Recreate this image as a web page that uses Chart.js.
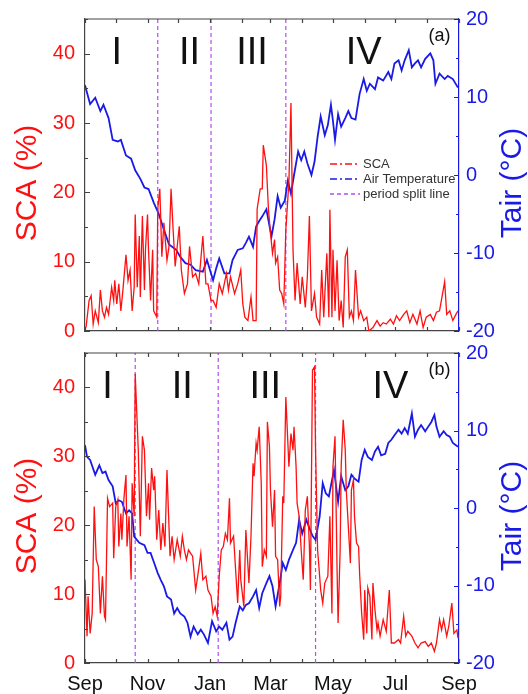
<!DOCTYPE html>
<html>
<head>
<meta charset="utf-8">
<script src="https://cdn.jsdelivr.net/npm/chart.js@4.4.1/dist/chart.umd.min.js"></script>
<style>
html,body{margin:0;padding:0;background:#fff;}
#wrap{position:relative;width:528px;height:694px;}
canvas{position:absolute;left:0;}
#chartA{top:0;}
#chartB{top:342px;}
</style>
</head>
<body>
<div id="wrap">
<canvas id="chartA" width="528" height="342"></canvas>
<canvas id="chartB" width="528" height="352"></canvas>
</div>
<script>
// axis: days since 1 Sep, ticks at the first of each month
const monthDays = [0,30,61,91,122,153,181,212,242,273,303,334,365]
const monthLabels = ['Sep','','Nov','','Jan','','Mar','','May','','Jul','','Sep']
const periodNames = ['I','II','III','IV']

// panel (a)
const scaADays = [1,4,6,8,10,13,15,17,19,21,23,26,28,29,31,33,35,37,40,42,44,46,48,49,51,53,54,56,58,59,61,62,64,66,67,70,71,73,75,77,80,82,84,86,88,92,94,97,100,102,105,108,111,115,118,120,123,125,128,131,134,138,140,142,146,149,152,154,156,159,162,164,167,168,171,173,174,177,179,181,183,185,186,188,190,192,194,196,199,201,203,205,207,210,212,215,217,219,221,224,226,229,231,233,236,238,239,241,242,244,246,248,250,252,254,256,258,260,262,264,267,269,272,275,277,281,285,288,291,294,298,301,304,307,311,314,317,320,324,327,330,333,337,340,343,346,351,353,356,359,362,364]
const scaAVals = [0.5,4.4,5.1,1.0,2.9,1.2,5.9,2.9,2.0,3.4,2.4,6.3,4.4,7.3,3.9,6.8,2.9,5.9,11.0,7.3,8.8,2.9,6.3,16.8,6.3,13.7,4.9,16.6,5.9,11.7,16.8,11.7,4.4,11.7,2.9,2.0,17.6,20.5,10.7,15.6,10.2,12.2,20.5,14.6,9.3,15.1,8.8,5.4,6.8,12.2,7.8,8.3,6.8,13.7,6.8,6.8,4.4,4.4,3.4,6.8,5.4,8.3,5.9,7.8,5.4,6.8,8.8,3.9,2.0,1.5,4.9,1.5,1.5,17.6,20.5,20.5,26.8,23.9,17.6,14.1,11.2,13.2,9.8,10.7,5.9,5.4,3.9,14.6,21.5,32.9,11.7,4.4,9.8,3.9,7.8,3.4,7.8,16.6,2.9,5.4,2.0,1.0,8.8,2.0,11.2,2.0,17.5,2.0,11.7,2.9,10.2,1.5,4.4,0.5,10.7,11.7,2.0,2.9,1.5,8.8,2.0,2.9,1.5,2.0,0.0,0.5,1.5,0.7,1.2,1.0,1.7,1.0,2.2,1.5,2.4,2.9,1.2,2.4,1.0,2.9,0.5,2.0,2.4,1.5,2.7,2.9,7.1,2.4,2.9,1.5,2.4,2.9]
const tairADays = [0,5,10,15,18,23,27,32,35,40,45,49,54,58,62,67,72,77,82,89,93,98,103,108,115,119,125,128,131,136,141,144,149,154,157,160,164,167,170,173,177,182,185,188,191,195,198,201,204,208,211,214,217,221,224,227,230,234,237,240,242,244,247,250,254,257,260,264,268,272,275,278,283,286,291,296,299,302,306,309,312,316,319,322,325,328,332,337,340,342,346,351,354,359,364]
const tairAVals = [11.5,9.1,9.9,8.2,9.0,7.3,4.5,4.3,4.5,2.5,2.1,0.6,-0.5,-1.6,-1.8,-3.5,-5.0,-7.0,-8.9,-9.6,-10.5,-11.3,-11.5,-12.2,-12.4,-10.9,-13.5,-12.0,-10.7,-12.6,-12.6,-10.9,-9.6,-9.4,-8.7,-7.9,-9.2,-6.6,-5.9,-5.3,-4.4,-7.9,-5.7,-2.7,-4.2,-3.3,-0.7,-2.4,0.0,3.0,1.9,3.0,1.5,0.0,1.7,4.9,7.5,5.1,6.4,9.0,6.9,4.5,7.8,6.2,7.3,8.2,7.3,7.1,10.4,12.3,10.8,11.7,11.0,12.5,12.1,13.2,12.3,14.3,14.7,13.4,14.7,16.0,13.8,14.3,14.7,13.8,14.9,15.6,14.7,11.7,13.0,12.3,12.7,12.3,11.2]
const splitA = [71,123,196]
const numeralDaysA = [31,102,163,272]

// panel (b)
const scaBDays = [0,2,3,5,7,9,11,13,15,17,19,20,22,24,27,28,30,32,33,35,36,38,40,41,43,45,46,48,49,52,54,56,58,60,62,63,65,67,68,70,72,74,76,78,80,83,85,87,90,93,95,97,99,101,105,108,110,113,115,118,120,123,125,127,129,131,133,135,137,139,141,142,145,147,149,151,152,155,157,160,162,164,165,167,168,170,172,173,175,177,178,180,181,183,185,186,188,190,191,193,194,196,198,199,201,203,204,206,207,209,211,213,215,217,219,220,222,224,225,227,229,230,232,234,237,239,241,242,244,246,247,249,250,252,254,255,257,259,260,262,263,265,267,268,270,272,273,275,276,278,280,281,283,285,286,288,291,294,297,299,302,306,308,311,313,315,319,322,325,328,332,335,338,341,343,346,348,350,353,355,358,360,363,364]
const scaBVals = [12.1,3.9,9.7,4.3,7.2,22.7,15.0,14.0,7.2,12.6,6.8,6.3,23.9,22.7,23.2,15.2,22.7,23.7,16.9,21.7,17.9,23.9,27.3,16.9,21.3,12.1,26.1,21.3,42.0,30.9,18.4,32.9,30.9,21.3,26.1,20.8,28.3,25.1,27.1,17.9,22.2,16.4,20.3,16.9,28.0,15.5,18.4,15.0,17.9,15.5,18.4,16.4,15.0,16.4,15.5,10.6,12.6,15.9,12.1,12.6,10.6,9.7,7.2,8.2,6.8,12.6,16.4,16.9,18.8,17.9,23.9,17.4,18.4,13.5,8.7,16.4,12.1,8.2,19.3,11.6,18.4,29.0,27.1,31.9,30.9,34.3,26.1,14.0,16.4,15.5,35.0,31.4,25.1,19.8,25.1,15.5,15.0,8.2,9.7,24.2,23.2,38.6,31.9,28.5,33.3,30.9,34.3,28.5,23.2,21.3,16.4,12.1,22.2,24.2,16.9,10.6,42.5,43.0,30.9,16.4,12.6,10.6,8.7,11.6,12.6,21.3,7.2,28.5,32.9,13.5,5.8,16.4,28.5,35.3,30.9,25.1,19.8,14.5,25.1,26.6,21.3,17.4,16.9,13.0,7.2,3.4,10.6,4.3,10.9,9.7,3.4,11.6,7.7,4.8,5.8,3.9,6.3,4.6,10.6,2.9,2.9,3.4,2.9,6.8,3.9,4.6,3.9,2.9,2.2,2.9,3.1,2.4,2.9,1.7,2.9,6.3,4.8,6.3,3.9,5.3,8.7,4.3,4.8,3.6]
const tairBDays = [0,2,5,10,14,17,20,23,27,30,33,36,40,43,46,48,53,58,61,64,67,71,74,77,80,84,87,90,93,97,100,103,106,110,113,116,120,124,128,131,134,138,141,144,147,151,154,157,160,164,167,170,173,177,180,183,186,190,193,196,199,203,206,209,212,216,219,222,225,229,232,235,238,243,247,250,254,257,260,263,267,270,273,276,280,283,286,289,293,296,299,302,306,309,312,315,319,322,325,328,332,335,338,341,343,346,350,353,356,359,364]
const tairBVals = [8.1,6.6,6.2,4.3,5.5,4.5,4.7,3.6,2.8,0.6,1.0,0.8,-0.7,-0.3,-0.7,-3.7,-4.5,-4.8,-5.8,-5.8,-6.9,-8.4,-9.3,-10.1,-11.4,-11.8,-13.6,-12.9,-13.6,-14.0,-14.8,-16.6,-15.3,-16.3,-15.7,-16.3,-17.4,-14.6,-15.9,-15.3,-15.7,-14.8,-17.0,-16.6,-14.8,-12.7,-13.2,-12.5,-12.3,-11.4,-10.6,-12.9,-11.0,-9.7,-8.8,-10.1,-12.7,-9.7,-7.1,-8.0,-6.7,-5.4,-4.5,-1.5,-3.3,-1.5,-2.6,-3.6,-4.1,-1.1,3.2,1.9,1.5,4.9,0.8,4.1,2.3,2.8,4.3,3.8,3.4,6.2,7.5,6.6,6.2,7.3,7.9,6.8,7.0,8.4,8.8,9.4,10.1,9.6,10.3,9.6,12.2,9.2,10.1,10.7,9.9,10.5,11.1,12.0,10.5,9.2,9.9,9.4,9.2,8.4,7.9]
const splitB = [49,130,225]
const numeralDaysB = [22,95,176,298]

const RED = '#ff1010'
const BLUE = '#1a1ae6'
const VIOLET = '#b44cf0'
const FONT = 'Arial, "Liberation Sans", sans-serif'
Chart.defaults.font.family = FONT

const toPoints = (days, vals) => days.map((d, i) => ({x: d, y: vals[i]}))
const splitPoints = (days) => {
    const pts = []
    days.forEach(d => { pts.push({x: d, y: 0}, {x: d, y: 45}, {x: d, y: null}) })
    return pts
}

// frame, inward ticks, period numerals, panel tag, axis titles and legend
const panelText = {
    id: 'panelText',
    afterDraw(chart, args, opts) {
        const {ctx, chartArea: {left, right, top, bottom}, scales: {x, y, y1}} = chart
        ctx.save()
        ctx.lineWidth = 1.2
        ctx.strokeStyle = '#444'
        ctx.beginPath()
        ctx.moveTo(left, top); ctx.lineTo(right, top)
        monthDays.forEach(d => {
            const px = Math.round(x.getPixelForValue(d)) + 0.5
            ctx.moveTo(px, top); ctx.lineTo(px, top + 4)
            ctx.moveTo(px, bottom); ctx.lineTo(px, bottom - 4)
        })
        for (let v = 0; v <= 45; v += 5) {
            const py = Math.round(y.getPixelForValue(v)) + 0.5
            ctx.moveTo(left, py); ctx.lineTo(left + (v % 10 === 0 ? 5 : 3), py)
        }
        ctx.stroke()
        ctx.strokeStyle = BLUE
        ctx.beginPath()
        for (let v = -20; v <= 20; v += 5) {
            const py = Math.round(y1.getPixelForValue(v)) + 0.5
            ctx.moveTo(right, py); ctx.lineTo(right - (v % 10 === 0 ? 5 : 3), py)
        }
        ctx.stroke()

        // period numerals
        ctx.fillStyle = '#111'
        ctx.textAlign = 'center'
        ctx.textBaseline = 'middle'
        ctx.font = '38px ' + FONT
        periodNames.forEach((n, i) => {
            ctx.fillText(n, x.getPixelForValue(opts.days[i]), y.getPixelForValue(40))
        })
        ctx.font = '18px ' + FONT
        ctx.fillText(opts.tag, x.getPixelForValue(346), y.getPixelForValue(42.6))

        // axis titles
        const mid = (top + bottom) / 2 + 8
        ctx.font = '30px ' + FONT
        ctx.save()
        ctx.translate(28, mid); ctx.rotate(-Math.PI / 2)
        ctx.fillStyle = RED
        ctx.fillText('SCA (%)', 0, 0)
        ctx.restore()
        ctx.save()
        ctx.translate(513, mid); ctx.rotate(-Math.PI / 2)
        ctx.fillStyle = BLUE
        ctx.fillText('Tair (°C)', 0, 0)
        ctx.restore()

        // legend
        if (opts.legend) {
            const dashes = [[7,3,2,3],[7,3,2,3],[4,3]]
            ctx.font = '13px ' + FONT
            ctx.textAlign = 'left'
            chart.data.datasets.forEach((ds, i) => {
                const ly = top + 145 + i * 15
                ctx.strokeStyle = ds.borderColor
                ctx.lineWidth = 1.5
                ctx.setLineDash(dashes[i])
                ctx.beginPath(); ctx.moveTo(right - 129, ly); ctx.lineTo(right - 99, ly); ctx.stroke()
                ctx.setLineDash([])
                ctx.fillStyle = '#333'
                ctx.fillText(ds.label, right - 96, ly)
            })
        }
        ctx.restore()
    }
}

function makeConfig(sca, tair, split, days, tag, legend, padTop, xHeight, showX) {
    return {
        type: 'line',
        data: {
            datasets: [{
                label: 'SCA',
                data: sca,
                yAxisID: 'y',
                borderColor: RED,
                borderWidth: 1.3,
                pointRadius: 0,
                tension: 0
            }, {
                label: 'Air Temperature',
                data: tair,
                yAxisID: 'y1',
                borderColor: BLUE,
                borderWidth: 1.8,
                pointRadius: 0,
                tension: 0
            }, {
                label: 'period split line',
                data: split,
                yAxisID: 'y',
                borderColor: VIOLET,
                borderWidth: 1.2,
                borderDash: [4, 3],
                pointRadius: 0,
                spanGaps: false
            }]
        },
        options: {
            responsive: false,
            animation: false,
            events: [],
            parsing: false,
            layout: {padding: {top: padTop, left: 0, right: 0, bottom: 0}},
            scales: {
                x: {
                    type: 'linear',
                    min: 0,
                    max: 365,
                    afterBuildTicks: (scale) => { scale.ticks = monthDays.map(v => ({value: v})) },
                    afterFit: (scale) => { scale.height = xHeight; scale.paddingLeft = 0; scale.paddingRight = 0 },
                    grid: {display: false, tickLength: 0},
                    border: {display: true, color: '#444', width: 1.2},
                    ticks: {
                        autoSkip: false,
                        maxRotation: 0,
                        padding: 9,
                        color: '#111',
                        font: {size: 20},
                        callback: (v, i) => showX ? monthLabels[i] : ''
                    }
                },
                y: {
                    position: 'left',
                    min: 0,
                    max: 45,
                    afterFit: (scale) => { scale.width = 85; scale.paddingTop = 0; scale.paddingBottom = 0 },
                    grid: {display: false, tickLength: 0},
                    border: {display: true, color: '#444', width: 1.2},
                    ticks: {
                        stepSize: 5,
                        padding: 10,
                        color: RED,
                        font: {size: 20},
                        callback: (v) => v % 10 === 0 ? v : ''
                    }
                },
                y1: {
                    position: 'right',
                    min: -20,
                    max: 20,
                    afterFit: (scale) => { scale.width = 69; scale.paddingTop = 0; scale.paddingBottom = 0 },
                    grid: {display: false, tickLength: 0},
                    border: {display: true, color: BLUE, width: 1.2},
                    ticks: {
                        stepSize: 5,
                        padding: 7,
                        color: BLUE,
                        font: {size: 20},
                        callback: (v) => v % 10 === 0 ? v : ''
                    }
                }
            },
            plugins: {
                legend: {display: false},
                tooltip: {enabled: false},
                panelText: {days: days, tag: tag, legend: legend}
            }
        },
        plugins: [panelText]
    }
}

new Chart(document.getElementById('chartA').getContext('2d'),
    makeConfig(toPoints(scaADays, scaAVals), toPoints(tairADays, tairAVals), splitPoints(splitA), numeralDaysA, '(a)', true, 19, 11, false))
new Chart(document.getElementById('chartB').getContext('2d'),
    makeConfig(toPoints(scaBDays, scaBVals), toPoints(tairBDays, tairBVals), splitPoints(splitB), numeralDaysB, '(b)', false, 11, 31, true))
</script>
</body>
</html>
